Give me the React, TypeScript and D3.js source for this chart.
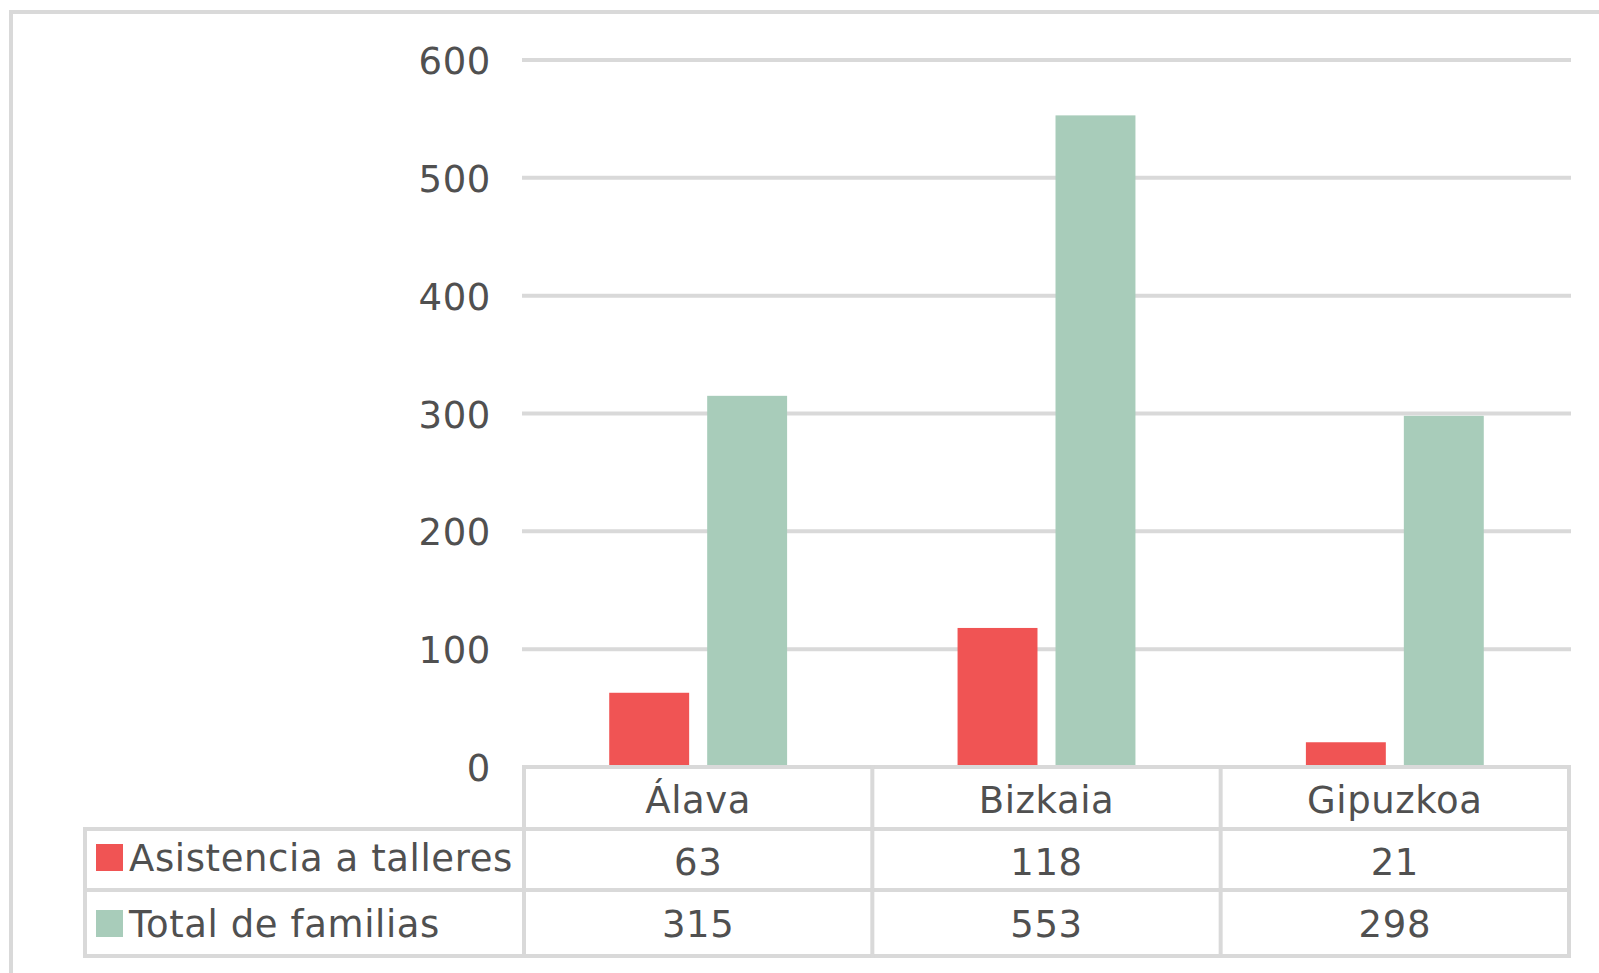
import React from "react";
import * as d3 from "d3";

const categories = ["Álava", "Bizkaia", "Gipuzkoa"];
const seriesNames = ["Asistencia a talleres", "Total de familias"];
const asistencia = [63, 118, 21];
const totalFamilias = [315, 553, 298];
const seriesValues = [asistencia, totalFamilias];
const seriesColors = ["#F05454", "#A8CCBA"];
const yTicks = [0, 100, 200, 300, 400, 500, 600];

const W = 1599;
const H = 973;
const FONT = "'DejaVu Sans', sans-serif";
const TEXT = "#505050";
const GRID = "#d9d9d9";

export default function App() {
  const plotLeft = 524;
  const plotRight = 1569;
  const y = d3.scaleLinear().domain([0, 600]).range([767, 60]);
  const x0 = d3.scaleBand<string>().domain(categories).range([plotLeft, plotRight]).paddingInner(0).paddingOuter(0);
  const bw = x0.bandwidth();
  const x1 = d3
    .scaleBand<string>()
    .domain(seriesNames)
    .range([0, bw])
    .paddingInner(0.184)
    .paddingOuter(0.87);

  const rowTop = y(0);
  const row1 = 829;
  const row2 = 890;
  const rowBottom = 956;
  const legendLeft = 85;
  const lw = 4;

  const colEdges = categories.map((c) => x0(c) as number).concat([plotRight]);

  return (
    <svg
      width={W}
      height={H}
      style={{ position: "absolute", left: 0, top: 0, background: "#fff" }}
      fontFamily={FONT}
      letterSpacing={0.6}
    >
      <rect x={0} y={0} width={W} height={H} fill="#fff" />
      {/* outer border */}
      <rect x={11} y={12} width={W + 100} height={H + 100} fill="none" stroke={GRID} strokeWidth={4} />

      {/* gridlines */}
      {yTicks.filter((t) => t > 0).map((t) => (
        <line key={t} x1={522} x2={1571} y1={y(t)} y2={y(t)} stroke={GRID} strokeWidth={4} />
      ))}

      {/* y labels */}
      {yTicks.map((t) => (
        <text key={t} x={491} y={y(t) + 14} textAnchor="end" fontSize={37} fill={TEXT}>
          {t}
        </text>
      ))}

      {/* bars */}
      {categories.map((c, ci) => (
        <g key={c} transform={`translate(${x0(c)},0)`}>
          {seriesNames.map((s, si) => {
            const v = seriesValues[si][ci];
            return (
              <rect
                key={s}
                x={x1(s)}
                y={y(v)}
                width={x1.bandwidth()}
                height={y(0) - y(v)}
                fill={seriesColors[si]}
              />
            );
          })}
        </g>
      ))}

      {/* table lines */}
      <line x1={522} x2={1571} y1={rowTop} y2={rowTop} stroke={GRID} strokeWidth={lw} />
      {[row1, row2, rowBottom].map((r) => (
        <line key={r} x1={legendLeft - 2} x2={1571} y1={r} y2={r} stroke={GRID} strokeWidth={lw} />
      ))}
      {colEdges.map((e, i) => (
        <line key={i} x1={e} x2={e} y1={rowTop - 2} y2={rowBottom + 2} stroke={GRID} strokeWidth={lw} />
      ))}
      <line x1={legendLeft} x2={legendLeft} y1={row1 - 2} y2={rowBottom + 2} stroke={GRID} strokeWidth={lw} />

      {/* category labels */}
      {categories.map((c) => (
        <text key={c} x={(x0(c) as number) + bw / 2} y={813} textAnchor="middle" fontSize={37} fill={TEXT}>
          {c}
        </text>
      ))}

      {/* values */}
      {seriesNames.map((s, si) => (
        <g key={s}>
          {categories.map((c, ci) => (
            <text
              key={c}
              x={(x0(c) as number) + bw / 2}
              y={si === 0 ? 875 : 937}
              textAnchor="middle"
              fontSize={37}
              fill={TEXT}
            >
              {seriesValues[si][ci]}
            </text>
          ))}
          <rect x={96} y={si === 0 ? 844 : 910} width={27} height={27} fill={seriesColors[si]} />
          <text x={129} y={si === 0 ? 871 : 937} fontSize={37} fill={TEXT}>
            {s}
          </text>
        </g>
      ))}
    </svg>
  );
}
